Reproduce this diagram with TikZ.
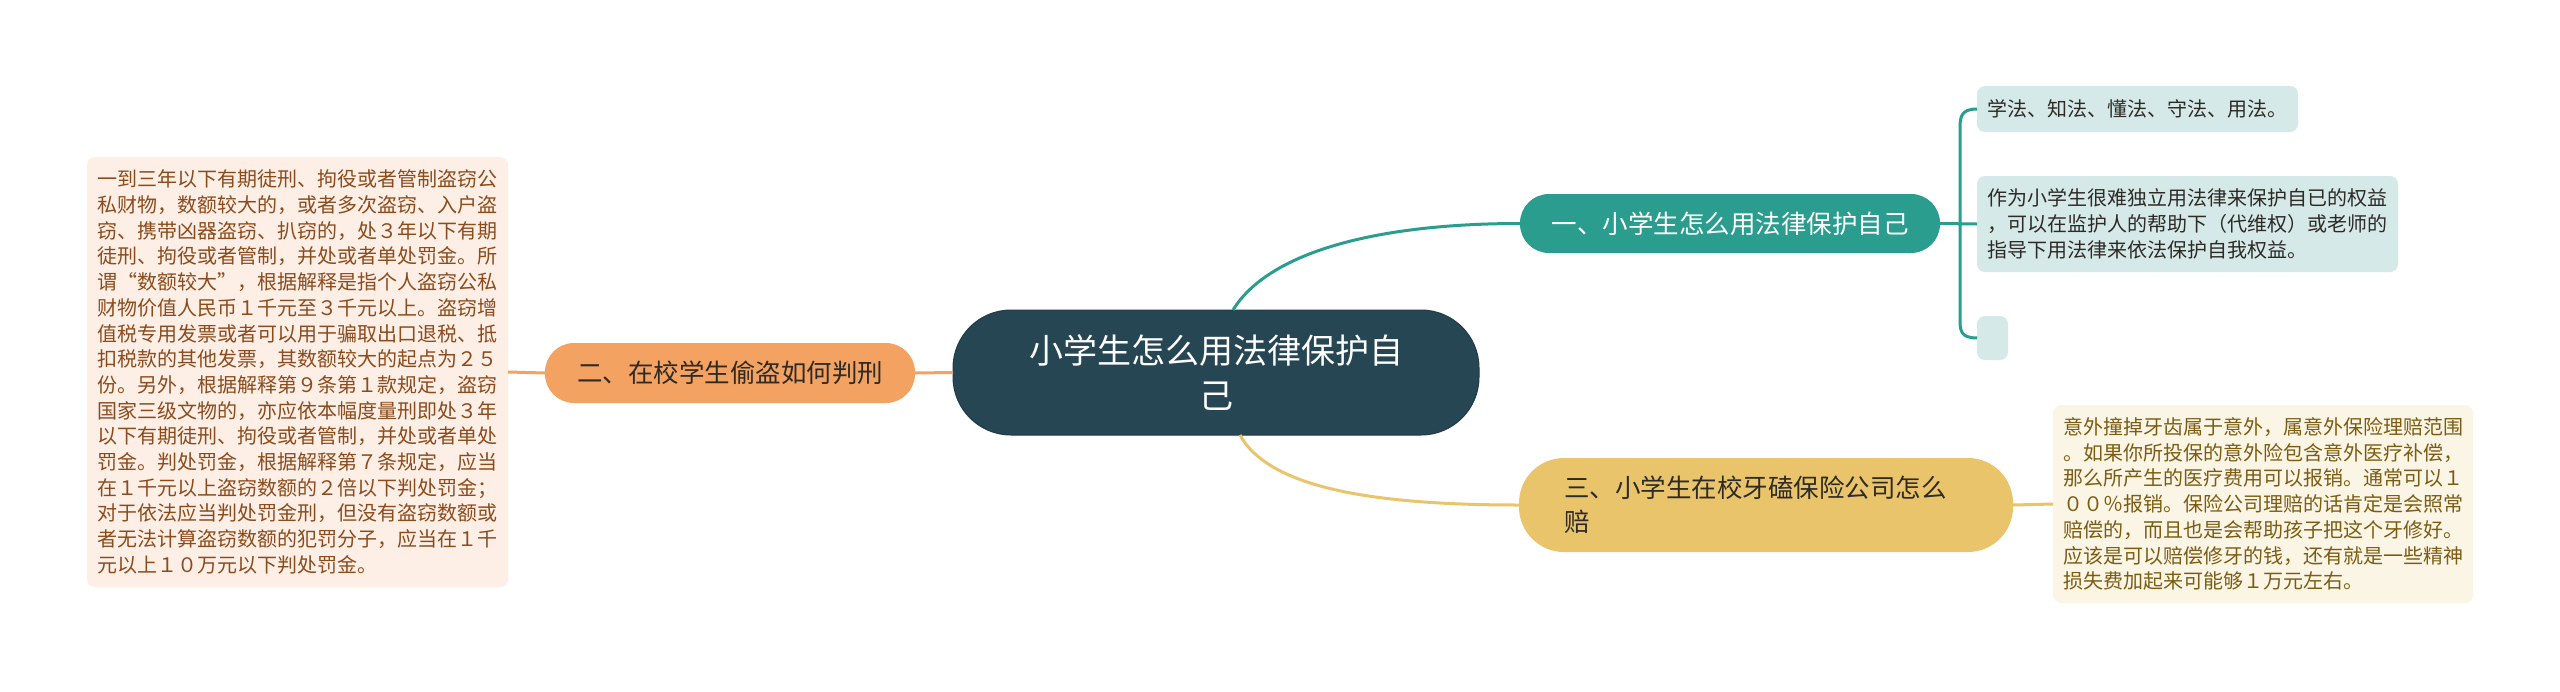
\documentclass[tikz,border=0pt]{standalone}
\usepackage{fontspec}
\setmainfont{Noto Sans CJK SC}
\definecolor{cdark}{HTML}{264653}
\definecolor{cteal}{HTML}{2A9D8F}
\definecolor{cyel}{HTML}{E9C46A}
\definecolor{corg}{HTML}{F4A261}
\definecolor{lteal}{HTML}{D5EAE8}
\definecolor{lorg}{HTML}{FDEFE6}
\definecolor{lyel}{HTML}{FBF5E6}
\definecolor{torg}{HTML}{8C4B1C}
\definecolor{tyel}{HTML}{7B5C12}
\definecolor{tdark}{HTML}{2E2A26}
\tikzset{
  base/.style={inner sep=0pt, outer sep=0pt, anchor=center},
  centerbox/.style={base, fill=cdark, draw=cdark!85!black, line width=1pt, rounded corners=58pt,
    minimum width=526pt, minimum height=125pt, text=white, align=center,
    font=\fontsize{34}{45}\selectfont},
  branch/.style={base, font=\fontsize{25.5}{34}\selectfont},
  leafbox/.style={base, rounded corners=8pt, align=left, font=\fontsize{20}{25.7}\selectfont},
  link/.style={line width=3pt},
}
\begin{document}
\begin{tikzpicture}[x=1pt,y=-1pt]
\useasboundingbox (0,0) rectangle (2560,691);
\fill[white] (0,0) rectangle (2560,691);

% nodes
\node[centerbox] (c) at (1216,372.5) {小学生怎么用法律保护自\\己};

\node[branch, fill=cteal, rounded corners=29pt, minimum width=420pt, minimum height=59pt, text=white]
  (n1) at (1730,223.5) {一、小学生怎么用法律保护自己};
\node[branch, fill=corg, rounded corners=29pt, minimum width=370pt, minimum height=60pt, text=tdark]
  (n2) at (730,373) {二、在校学生偷盗如何判刑};
\node[branch, fill=cyel, rounded corners=45pt, minimum width=494pt, minimum height=94pt, text=tdark,
  text width=404pt, align=left]
  (n3) at (1766,505) {三、小学生在校牙磕保险公司怎么\\赔};

\node[leafbox, fill=lteal, minimum width=321pt, minimum height=46pt, text=tdark]
  (l1a) at (2137.5,109) {学法、知法、懂法、守法、用法。};
\node[leafbox, fill=lteal, minimum width=421pt, minimum height=96pt, text=tdark,
  font=\fontsize{20}{26}\selectfont]
  (l1b) at (2187.5,224) {作为小学生很难独立用法律来保护自已的权益\\，可以在监护人的帮助下（代维权）或老师的\\指导下用法律来依法保护自我权益。};
\node[leafbox, fill=lteal, minimum width=31pt, minimum height=44pt]
  (l1c) at (1992.5,338) {};

\node[leafbox, fill=lorg, minimum width=421pt, minimum height=430pt, text=torg]
  (l2) at (297.5,372) {一到三年以下有期徒刑、拘役或者管制盗窃公\\
私财物，数额较大的，或者多次盗窃、入户盗\\
窃、携带凶器盗窃、扒窃的，处３年以下有期\\
徒刑、拘役或者管制，并处或者单处罚金。所\\
谓“数额较大”，根据解释是指个人盗窃公私\\
财物价值人民币１千元至３千元以上。盗窃增\\
值税专用发票或者可以用于骗取出口退税、抵\\
扣税款的其他发票，其数额较大的起点为２５\\
份。另外，根据解释第９条第１款规定，盗窃\\
国家三级文物的，亦应依本幅度量刑即处３年\\
以下有期徒刑、拘役或者管制，并处或者单处\\
罚金。判处罚金，根据解释第７条规定，应当\\
在１千元以上盗窃数额的２倍以下判处罚金；\\
对于依法应当判处罚金刑，但没有盗窃数额或\\
者无法计算盗窃数额的犯罚分子，应当在１千\\
元以上１０万元以下判处罚金。};

\node[leafbox, fill=lyel, minimum width=420pt, minimum height=198pt, text=tyel]
  (l3) at (2263,504) {意外撞掉牙齿属于意外，属意外保险理赔范围\\
。如果你所投保的意外险包含意外医疗补偿，\\
那么所产生的医疗费用可以报销。通常可以１\\
００％报销。保险公司理赔的话肯定是会照常\\
赔偿的，而且也是会帮助孩子把这个牙修好。\\
应该是可以赔偿修牙的钱，还有就是一些精神\\
损失费加起来可能够１万元左右。};

% spine coordinates for the bracket
\coordinate (st) at (1960,130);
\coordinate (sb) at (1960,318);

% connectors
\begin{scope}[on background layer/.style={}]
\draw[link, cteal] ([xshift=17pt]c.north) .. controls +(37,-60) and +(-138,0) .. (n1.west);
\draw[link, cyel] ([xshift=24pt]c.south) .. controls +(30,55) and +(-138,0) .. (n3.west);
\draw[link, corg] (c.west) -- (n2.east);
\draw[link, corg] (n2.west) -- (l2.east);
\draw[link, cyel] (n3.east) -- (l3.west);
\draw[link, cteal] (n1.east) -- (l1b.west);
\draw[link, cteal] (l1a.west) .. controls +(-17,0) and +(0,-12) .. (st) -- (sb)
  .. controls +(0,12) and +(-17,0) .. (l1c.west);
\end{scope}
\end{tikzpicture}
\end{document}
